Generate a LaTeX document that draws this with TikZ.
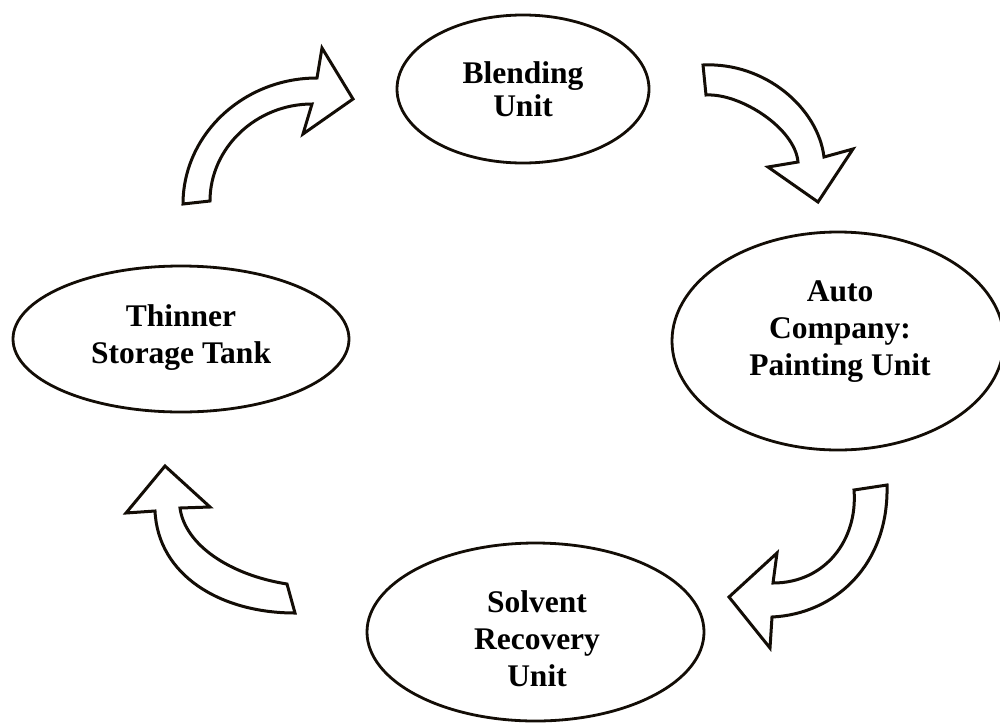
\documentclass[tikz,border=0pt]{standalone}
\usepackage{fontspec}
\setmainfont{Liberation Serif}
\usetikzlibrary{shapes.geometric}
\begin{document}
\begin{tikzpicture}[x=1pt,y=-1pt,
  blob/.style={draw=black!90!brown, line width=2.8pt, ellipse, inner sep=0pt},
  lbl/.style={align=center, font=\bfseries\fontsize{31.5}{37}\selectfont, inner sep=0pt},
  blockarrow/.style={draw=black!90!brown, line width=3pt, line join=miter, fill=white}]
\useasboundingbox (0,0) rectangle (1000,723);
% ellipses
\node[blob, minimum width=252pt, minimum height=148pt] (blend) at (523,89) {};
\node[blob, minimum width=336pt, minimum height=146pt] (thin) at (181,339) {};
\node[blob, minimum width=332pt, minimum height=218pt] (auto) at (838,341) {};
\node[blob, minimum width=337pt, minimum height=178pt] (solv) at (535.5,632) {};
% labels
\node[lbl, font=\bfseries\fontsize{31.5}{33.5}\selectfont] (blendT) at (523,89) {Blending\\Unit};
\node[lbl] (thinT) at (181,338) {Thinner\\Storage Tank};
\node[lbl] (autoT) at (840,332) {Auto\\Company:\\Painting Unit};
\node[lbl] (solvT) at (537,639) {Solvent\\Recovery\\Unit};
% block arrows
\draw[blockarrow] (183,204) .. controls (183,135) and (243,78) .. (317,78)
  -- (322,48) -- (353,99) -- (303,134) -- (312,104)
  .. controls (256,104) and (210,148) .. (210,201) -- cycle;
\draw[blockarrow] (703,65) .. controls (765,62) and (818,108) .. (824,157)
  -- (853,149) -- (818,202) -- (768,167) -- (798,162)
  .. controls (795,128) and (740,93) .. (706,95) -- cycle;
\draw[blockarrow] (887,485) .. controls (889,565) and (835,614) .. (772,617)
  -- (770,648) -- (729,597) -- (777,553) -- (773,583)
  .. controls (825,583) and (858,540) .. (854,490) -- cycle;
\draw[blockarrow] (295,613) .. controls (220,613) and (158,575) .. (155,511)
  -- (126,513) -- (165,466) -- (210,507) -- (180,508)
  .. controls (185,545) and (230,575) .. (287,584) -- cycle;
\end{tikzpicture}
\end{document}
